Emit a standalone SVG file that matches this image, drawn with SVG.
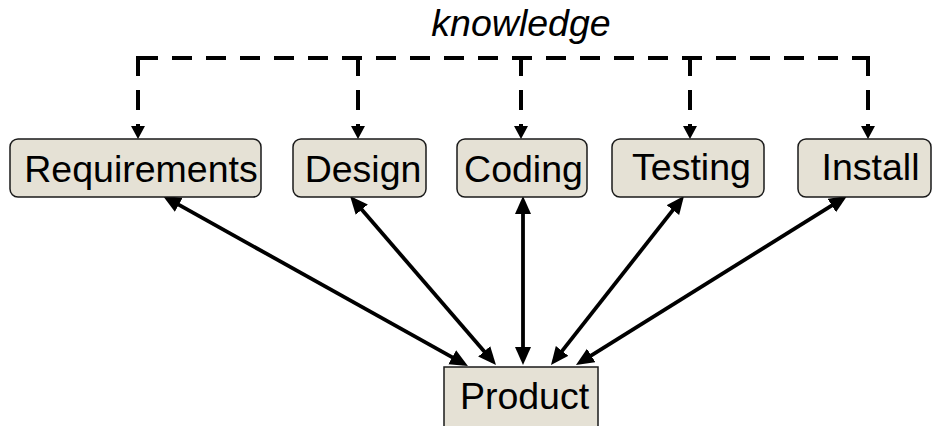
<svg xmlns="http://www.w3.org/2000/svg" width="932" height="426" viewBox="0 0 932 426">
<style>
.box{fill:#e5e1d5;stroke:#1a1a1a;stroke-width:1.5}
.lbl{font-family:"Liberation Sans",Arial,sans-serif;font-size:37.5px;fill:#000;text-anchor:middle}
.dash{fill:none;stroke:#000;stroke-width:4;stroke-dasharray:20 14}
.solid{fill:none;stroke:#000;stroke-width:3.8;marker-start:url(#ah);marker-end:url(#ah)}
.dh{fill:#000}
</style>
<defs>
<marker id="ah" markerUnits="userSpaceOnUse" markerWidth="20" markerHeight="18" refX="13" refY="8" orient="auto-start-reverse">
<path d="M0,0 L18,8 L0,16 z" fill="#000"/>
</marker>
</defs>
<rect width="932" height="426" fill="#fff"/>
<text x="521" y="36" class="lbl" font-style="italic">knowledge</text>
<g id="connectors">
<path class="dash" d="M138,58 H868"/>
<path class="dash" d="M138,56 V126"/>
<path class="dash" d="M358,56 V126"/>
<path class="dash" d="M521,56 V126"/>
<path class="dash" d="M690,56 V126"/>
<path class="dash" d="M868,56 V126"/>
<polygon class="dh" points="131,126 145,126 138,139"/>
<polygon class="dh" points="351,126 365,126 358,139"/>
<polygon class="dh" points="514,126 528,126 521,139"/>
<polygon class="dh" points="683,126 697,126 690,139"/>
<polygon class="dh" points="861,126 875,126 868,139"/>
<path class="solid" d="M167.4,198.4 L463.6,363.6"/>
<path class="solid" d="M353.3,199.8 L492.7,361.2"/>
<path class="solid" d="M523,201 L523,360"/>
<path class="solid" d="M680.9,199.9 L554.1,361.1"/>
<path class="solid" d="M842.8,198.6 L580.2,362.4"/>
</g>
<g id="requirements"><rect class="box" x="10" y="139" width="251" height="58" rx="8"/><text class="lbl" x="141" y="182">Requirements</text></g>
<g id="design"><rect class="box" x="293" y="139" width="133" height="58" rx="8"/><text class="lbl" x="363" y="182">Design</text></g>
<g id="coding"><rect class="box" x="457" y="139" width="130" height="58" rx="8"/><text class="lbl" x="523.5" y="182">Coding</text></g>
<g id="testing"><rect class="box" x="612" y="139" width="152" height="58" rx="8"/><text class="lbl" x="691.5" y="180">Testing</text></g>
<g id="install"><rect class="box" x="798" y="139" width="133" height="58" rx="8"/><text class="lbl" x="870.5" y="180">Install</text></g>
<g id="product"><rect class="box" x="444" y="367" width="154" height="64"/><text class="lbl" x="524.5" y="409">Product</text></g>
</svg>
